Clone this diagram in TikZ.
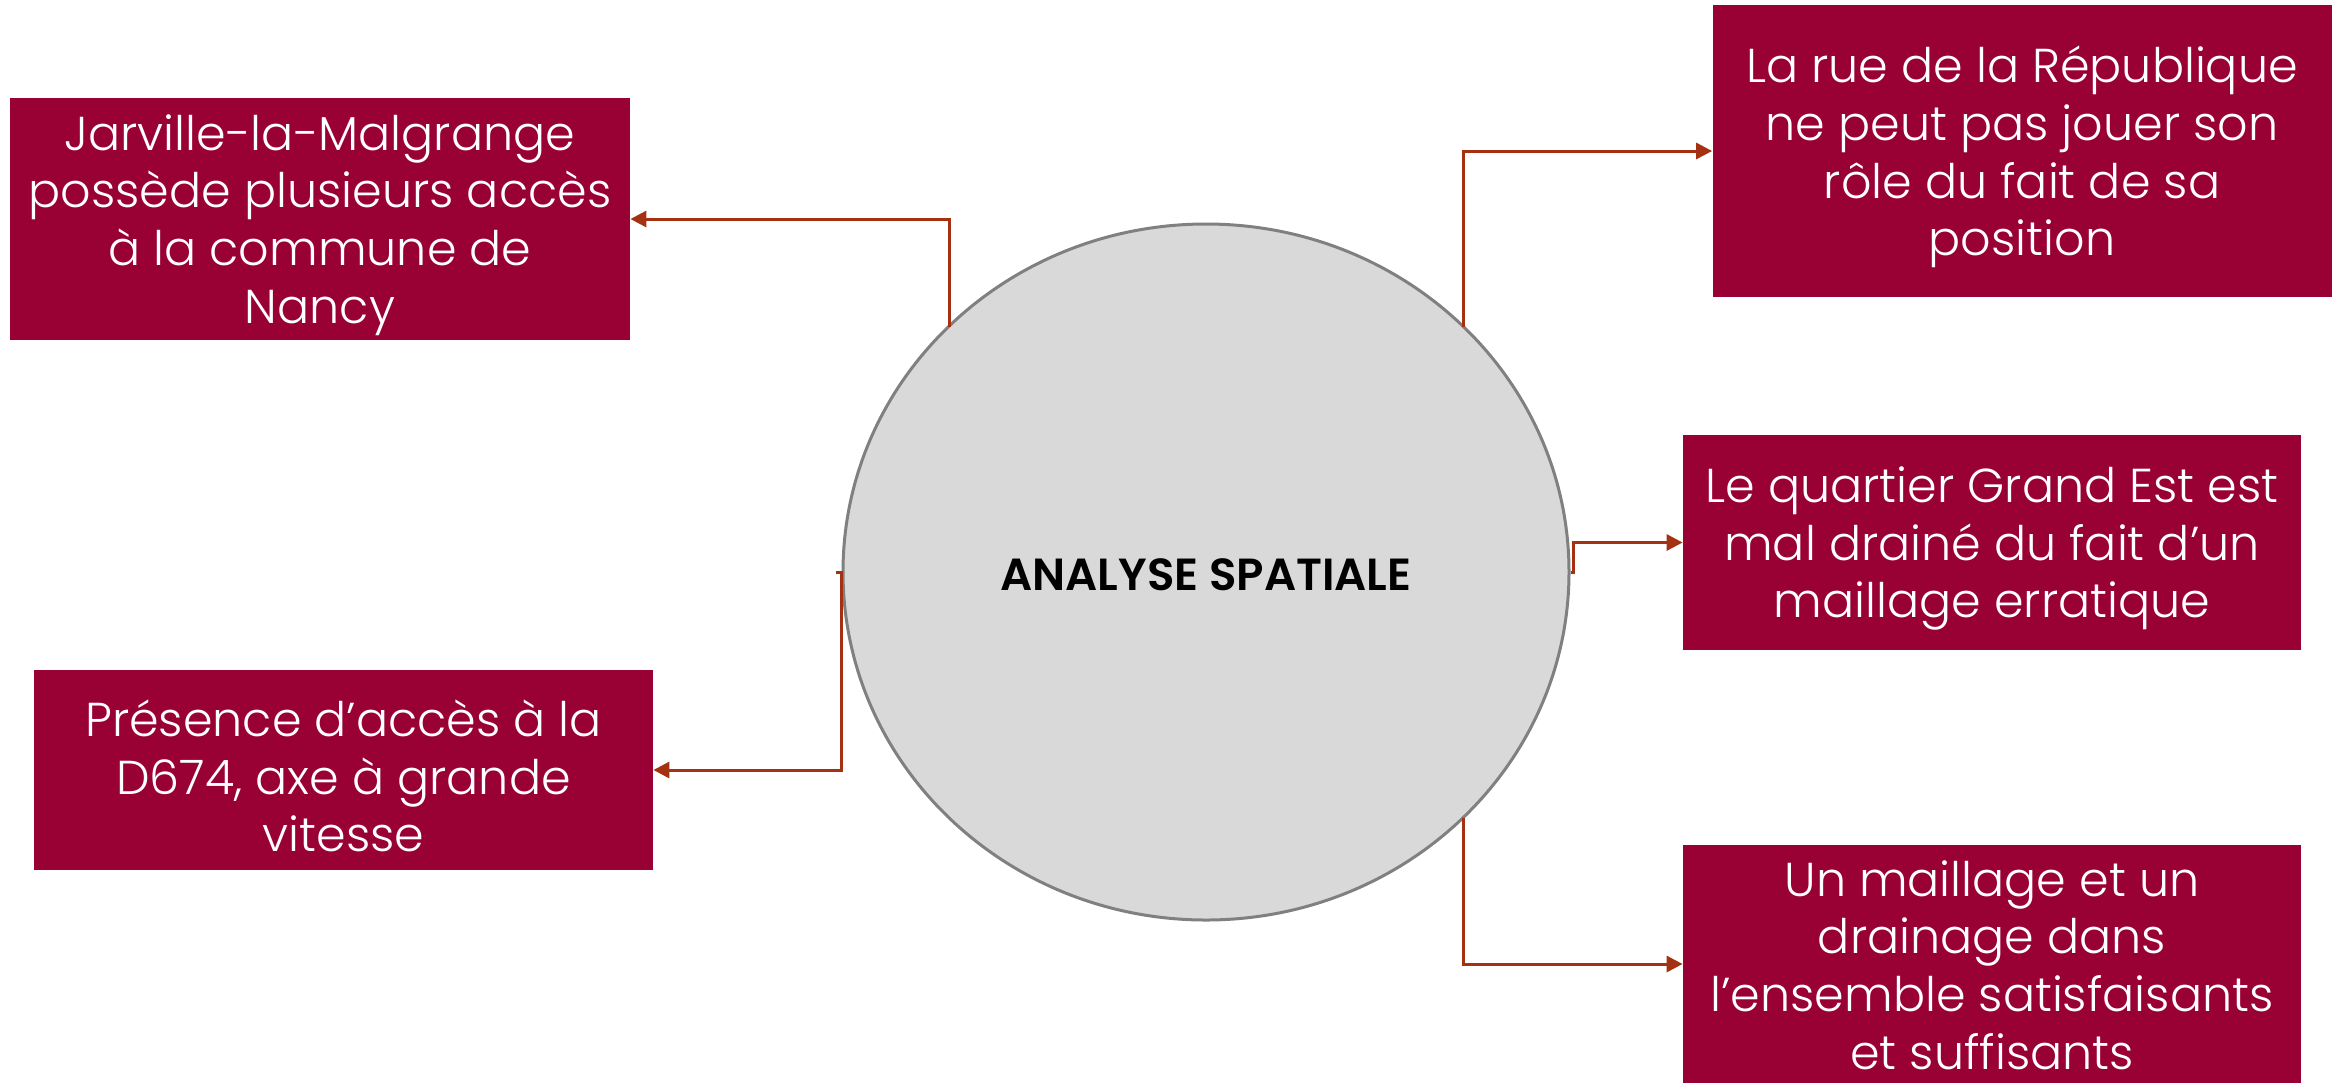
\documentclass[tikz,border=0pt]{standalone}
\usepackage{fontspec}
\setmainfont{Poppins Light}[BoldFont={Poppins SemiBold}]
\usetikzlibrary{shapes.geometric,arrows.meta,calc}
\definecolor{boxred}{RGB}{153,0,51}
\definecolor{arrowred}{RGB}{164,50,18}
\definecolor{ellfill}{RGB}{217,217,217}
\definecolor{ellline}{RGB}{128,128,128}
\begin{document}
\begin{tikzpicture}[x=0.5pt,y=-0.5pt,
  box/.style={rectangle, fill=boxred, inner sep=0pt},
  boxtxt/.style={text=white, align=center, inner sep=0pt,
    font=\fontsize{23.8}{28.9}\selectfont},
  conn/.style={draw=arrowred, line width=1.5pt, -{Triangle[length=8pt,width=8pt]}}]
\useasboundingbox (0,0) rectangle (2339,1084);
\fill[white] (0,0) rectangle (2339,1084);

\node[ellipse, draw=ellline, fill=ellfill, line width=1.5pt, minimum width=363pt, minimum height=348pt, inner sep=0pt] (ell) at (1206,572) {};
\node[font=\fontsize{22.5}{26}\selectfont\bfseries] (title) at (1206,575) {ANALYSE SPATIALE};

\node[box, minimum width=310pt, minimum height=121pt] (tl) at (320,219) {};
\node[box, minimum width=309.5pt, minimum height=100pt] (bl) at (343.5,770) {};
\node[box, minimum width=309.5pt, minimum height=146pt] (tr) at (2022,151) {};
\node[box, minimum width=309pt, minimum height=107.5pt] (mr) at (1992,542.5) {};
\node[box, minimum width=309pt, minimum height=119pt] (br) at (1992,964) {};

\node[boxtxt] (tlt) at ($(tl.center)+(0,6)$)
  {Jarville-la-Malgrange\\possède plusieurs accès\\à la commune de\\Nancy};
\node[boxtxt] (blt) at ($(bl.center)+(0,6)$)
  {Présence d’accès à la\\D674, axe à grande\\vitesse};
\node[boxtxt] (trt) at ($(tr.center)+(0,6)$)
  {La rue de la République\\ne peut pas jouer son\\rôle du fait de sa\\position};
\node[boxtxt] (mrt) at ($(mr.center)+(0,6)$)
  {Le quartier Grand Est est\\mal drainé du fait d’un\\maillage erratique};
\node[boxtxt] (brt) at ($(br.center)+(0,1)$)
  {Un maillage et un\\drainage dans\\l’ensemble satisfaisants\\et suffisants};

\coordinate (s1) at (949,327);
\coordinate (s2) at (1463,327);
\coordinate (s4) at (1463,818);
\coordinate (s3) at (ell.east);
\coordinate (s5) at (ell.west);

\draw[conn] (s1) |- (tl.east);
\draw[conn] (s2) |- (tr.west);
\draw[conn] (s3) -- ++(3,0) |- (mr.west);
\draw[conn] (s4) |- (br.west);
\draw[conn] ($(s5)+(-6,0)$) -- ++(6,0) |- (bl.east);
\end{tikzpicture}
\end{document}
